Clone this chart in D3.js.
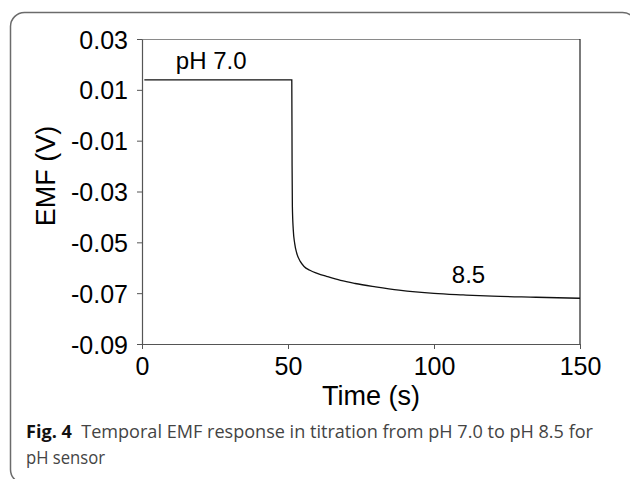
<!DOCTYPE html>
<html>
<head>
<meta charset="utf-8">
<script src="https://cdn.jsdelivr.net/npm/d3@7"></script>
<style>
  body { margin: 0; background: #fff; }
  svg { display: block; }
</style>
</head>
<body>
<svg id="chart" width="630" height="479"></svg>
<script>
// data
var timeS = [0.8, 51.3, 51.4, 51.5, 51.8, 52.3, 53.0, 54.2, 55.5, 57.5, 60, 63.5, 68, 73, 80, 88, 100, 110, 120, 135, 150];
var emfV  = [0.0139, 0.0139, -0.020, -0.036, -0.045, -0.0505, -0.0543, -0.0575, -0.0595, -0.0610, -0.0622, -0.0635, -0.0650, -0.0662, -0.0675, -0.0688, -0.0701, -0.0707, -0.0712, -0.0716, -0.0720];
var xTicks = [0, 50, 100, 150];
var yTicks = [0.03, 0.01, -0.01, -0.03, -0.05, -0.07, -0.09];
var notes = [{text: "pH 7.0", t: 11.6, v: 0.0182}, {text: "8.5", t: 106.1, v: -0.0659}];

var margin = {top: 39, left: 142},
    width = 438,
    height = 305;

var svg = d3.select("#chart");

// rounded frame around figure + caption
svg.append("rect")
    .attr("x", 10.5).attr("y", 12.5)
    .attr("width", 626).attr("height", 471)
    .attr("rx", 14).attr("ry", 14)
    .attr("fill", "none")
    .attr("stroke", "#6b6b6b")
    .attr("stroke-width", 1.5);

var x = d3.scaleLinear().domain([0, 150]).range([0, width]);
var y = d3.scaleLinear().domain([-0.09, 0.03]).range([height, 0]);

var g = svg.append("g")
    .attr("transform", "translate(" + margin.left + "," + margin.top + ")");

// top and right box lines
g.append("line")
    .attr("x1", 0).attr("x2", width).attr("y1", 0.5).attr("y2", 0.5)
    .attr("stroke", "#8a8a8a").attr("stroke-width", 1.2);
g.append("line")
    .attr("x1", width).attr("x2", width).attr("y1", 0).attr("y2", height)
    .attr("stroke", "#222").attr("stroke-width", 1.2);

var xAxis = g.append("g")
    .attr("transform", "translate(0," + height + ")")
    .call(d3.axisBottom(x).tickValues(xTicks).tickSize(5).tickPadding(8).tickSizeOuter(0));

var yAxis = g.append("g")
    .call(d3.axisLeft(y).tickValues(yTicks).tickSize(5).tickPadding(9).tickSizeOuter(0)
        .tickFormat(function(d) { return d.toFixed(2); }));

[xAxis, yAxis].forEach(function(a) {
    a.select(".domain").attr("stroke", "#555").attr("stroke-width", 1.2);
    a.selectAll(".tick line").attr("stroke", "#555");
    a.selectAll("text")
        .attr("fill", "#000")
        .style("font-family", "'Liberation Sans', Arial, sans-serif")
        .style("font-size", "25px");
});
yAxis.selectAll("text").attr("dy", "0.36em");

// the EMF trace
var line = d3.line()
    .x(function(d, i) { return x(timeS[i]); })
    .y(function(d) { return y(d); })
    .curve(d3.curveMonotoneX);

g.append("path")
    .datum(emfV)
    .attr("fill", "none")
    .attr("stroke", "#111")
    .attr("stroke-width", 1.3)
    .attr("d", line);

g.selectAll(".note")
    .data(notes)
    .enter().append("text")
    .attr("class", "note")
    .attr("x", function(d) { return x(d.t); })
    .attr("y", function(d) { return y(d.v); })
    .style("font-family", "'Liberation Sans', Arial, sans-serif")
    .style("font-size", "24px")
    .text(function(d) { return d.text; });

// axis titles
svg.append("text")
    .attr("x", 371).attr("y", 405)
    .attr("text-anchor", "middle")
    .style("font-family", "'Liberation Sans', Arial, sans-serif")
    .style("font-size", "27px")
    .text("Time (s)");

svg.append("text")
    .attr("transform", "translate(55,176) rotate(-90)")
    .attr("text-anchor", "middle")
    .style("font-family", "'Liberation Sans', Arial, sans-serif")
    .style("font-size", "27px")
    .text("EMF (V)");

// caption
var cap1 = svg.append("text")
    .attr("x", 26).attr("y", 438)
    .attr("textLength", 567).attr("lengthAdjust", "spacingAndGlyphs")
    .style("font-family", "'Open Sans', 'Noto Sans', sans-serif")
    .style("font-size", "17.5px")
    .attr("fill", "#444");
cap1.append("tspan").attr("font-weight", "bold").attr("fill", "#111").text("Fig. 4");
cap1.append("tspan").text("\u00a0\u00a0Temporal EMF response in titration from pH 7.0 to pH 8.5 for");

svg.append("text")
    .attr("x", 26).attr("y", 464)
    .attr("textLength", 79).attr("lengthAdjust", "spacingAndGlyphs")
    .style("font-family", "'Open Sans', 'Noto Sans', sans-serif")
    .style("font-size", "17.5px")
    .attr("fill", "#444")
    .text("pH sensor");
</script>
</body>
</html>
